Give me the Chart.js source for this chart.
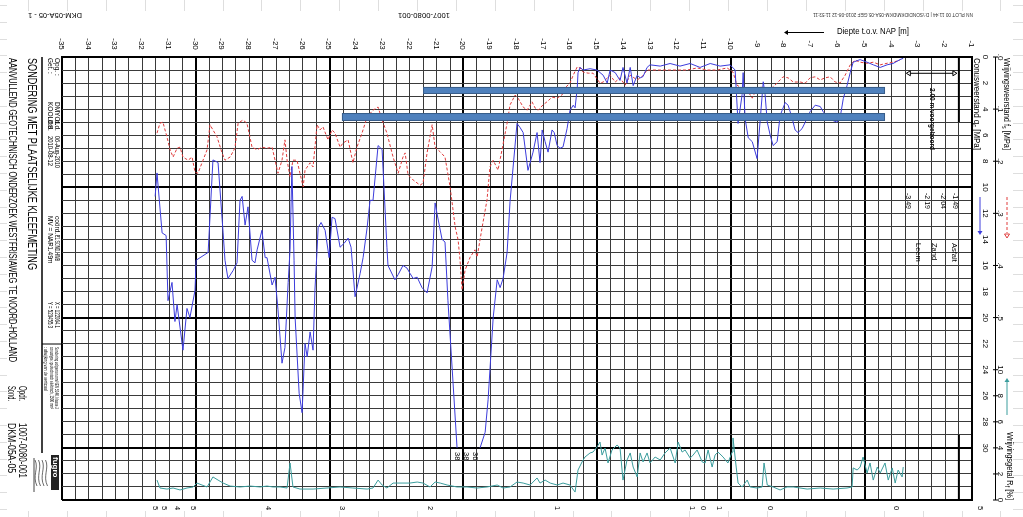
<!DOCTYPE html>
<html>
<head>
<meta charset="utf-8">
<script src="https://cdn.jsdelivr.net/npm/chart.js@4.4.1/dist/chart.umd.min.js"></script>
<style>
html, body { margin: 0; padding: 0; background: #fff; }
#wrap { width: 1023px; height: 517px; position: relative; }
</style>
</head>
<body>
<div id="wrap"><canvas id="cpt" width="1023" height="517"></canvas></div>
<script>
// ── Data (depth t.o.v. NAP in m) ─────────────────────────────────────────
const depthTicks = [-35,-34,-33,-32,-31,-30,-29,-28,-27,-26,-25,-24,-23,-22,-21,-20,-19,-18,-17,-16,-15,-14,-13,-12,-11,-10,-9,-8,-7,-6,-5,-4,-3,-2,-1];
const qcTicks = [0,2,4,6,8,10,12,14,16,18,20,22,24,26,28,30];
const fsTicks = [0, 0.1, 0.2, 0.3, 0.4, 0.5];
const rfTicks = [10, 8, 6, 4, 2, 0];

// cone resistance qc [MPa]
const qcDepth = [-31.52,-31.45,-31.26,-31.11,-31.04,-30.89,-30.78,-30.70,-30.48,-30.33,
  -30.22,-30.03,-29.99,-29.54,-29.36,-29.17,-28.98,-28.91,-28.80,-28.61,
  -28.46,-28.35,-28.27,-28.16,-28.05,-27.90,-27.79,-27.71,-27.53,-27.41,
  -27.34,-27.15,-27.04,-26.93,-26.78,-26.67,-26.55,-26.48,-26.41,-26.33,
  -26.29,-26.14,-26.03,-25.92,-25.84,-25.73,-25.62,-25.55,-25.47,-25.43,
  -25.32,-25.17,-25.02,-24.91,-24.80,-24.61,-24.46,-24.31,-24.20,-24.05,
  -23.86,-23.75,-23.60,-23.49,-23.38,-23.19,-23.04,-22.86,-22.82,-22.56,
  -22.44,-22.26,-22.11,-22.00,-21.88,-21.73,-21.55,-21.36,-21.17,-21.06,
  -20.99,-20.80,-20.69,-20.58,-20.39,-20.24,-19.80,-19.38,-19.19,-19.08,
  -18.89,-18.74,-18.63,-18.52,-18.37,-18.26,-18.00,-17.89,-17.77,-17.59,
  -17.40,-17.25,-17.14,-17.06,-16.95,-16.84,-16.69,-16.61,-16.50,-16.39,
  -16.28,-16.13,-16.02,-15.90,-15.83,-15.75,-15.72,-15.64,-15.53,-15.27,
  -15.01,-14.78,-14.63,-14.52,-14.33,-14.15,-14.04,-13.89,-13.77,-13.66,
  -13.51,-13.40,-13.29,-13.14,-13.03,-12.65,-12.28,-11.91,-11.53,-11.16,
  -10.78,-10.41,-10.04,-9.85,-9.74,-9.59,-9.55,-9.48,-9.36,-9.21,
  -9.03,-8.92,-8.80,-8.73,-8.65,-8.54,-8.43,-8.28,-8.17,-7.98,
  -7.87,-7.72,-7.61,-7.50,-7.35,-7.23,-7.05,-6.86,-6.67,-6.56,
  -6.30,-6.04,-5.93,-5.81,-5.67,-5.55,-5.44,-5.18,-4.92,-4.69,
  -4.43,-4.17,-3.95,-3.69,-3.57];
const qcValue = [10.7,8.9,13.5,13.7,18.7,17.3,20.3,19.0,22.5,19.3,
  20.0,17.9,15.6,15.0,7.9,8.1,13.5,15.6,17.0,16.4,
  15.8,11.0,10.7,12.9,11.5,15.6,15.8,14.8,13.3,15.4,
  15.4,17.5,16.9,19.4,23.5,22.3,17.3,14.8,8.4,15.6,
  20.0,25.8,27.3,22.0,23.0,21.1,22.5,17.9,14.8,13.1,
  12.7,13.3,15.4,12.3,12.4,14.6,14.3,13.9,14.6,18.4,
  16.6,15.4,13.1,11.0,11.0,6.8,7.1,14.6,16.0,17.1,
  16.7,16.0,16.2,16.6,17.0,16.9,17.7,18.1,16.1,11.2,
  12.0,14.0,14.2,18.7,25.0,30.0,null,30.0,28.8,26.3,
  20.0,17.1,17.7,17.0,15.0,11.1,5.1,5.4,5.8,8.7,
  7.3,5.8,8.1,5.6,6.5,7.3,5.6,5.8,6.8,7.0,
  6.9,5.5,4.1,3.7,3.9,2.4,1.2,0.8,1.0,0.9,
  1.0,1.4,2.0,1.0,1.2,1.8,0.8,2.0,0.8,2.2,
  1.4,1.6,1.5,0.8,0.6,0.7,0.5,0.7,0.5,0.8,
  0.5,0.7,0.6,1.0,5.1,2.9,1.2,4.7,6.2,6.5,
  7.8,5.0,1.9,2.9,5.0,6.0,6.8,6.5,4.5,3.5,
  3.7,4.7,5.6,5.8,5.5,5.0,4.2,3.7,3.8,4.2,
  4.8,5.0,4.7,3.2,2.2,1.2,0.4,0.2,0.4,0.6,
  0.8,0.6,0.5,0.2,0.1];

// sleeve friction fs [MPa]
const fsDepth = [-31.45,-31.34,-31.23,-31.08,-30.96,-30.85,-30.70,-30.59,-30.48,-30.29,
  -30.14,-30.03,-29.92,-29.73,-29.58,-29.47,-29.36,-29.21,-29.02,-28.91,
  -28.72,-28.54,-28.42,-28.24,-28.09,-27.90,-27.71,-27.53,-27.34,-27.15,
  -27.04,-26.93,-26.78,-26.67,-26.59,-26.48,-26.37,-26.22,-26.11,-25.99,
  -25.92,-25.73,-25.62,-25.47,-25.36,-25.25,-25.06,-24.91,-24.80,-24.61,
  -24.50,-24.31,-24.13,-23.98,-23.79,-23.60,-23.38,-23.19,-23.04,-22.86,
  -22.63,-22.44,-22.26,-22.18,-22.07,-21.88,-21.62,-21.51,-21.36,-21.17,
  -21.06,-20.87,-20.69,-20.50,-20.31,-20.20,-20.13,-20.05,-19.94,-19.75,
  -19.57,-19.49,-19.30,-19.12,-19.01,-18.89,-18.71,-18.56,-18.37,-18.26,
  -18.07,-17.96,-17.77,-17.62,-17.44,-17.32,-17.21,-17.03,-16.88,-16.69,
  -16.50,-16.32,-16.20,-16.02,-15.90,-15.75,-15.64,-15.53,-15.34,-15.16,
  -14.90,-14.78,-14.52,-14.33,-14.15,-13.96,-13.77,-13.51,-13.33,-13.14,
  -12.77,-12.39,-12.02,-11.64,-11.27,-10.90,-10.52,-10.15,-9.93,-9.78,
  -9.66,-9.36,-9.21,-9.03,-8.84,-8.65,-8.47,-8.28,-8.06,-7.87,
  -7.68,-7.42,-7.23,-7.05,-6.86,-6.67,-6.49,-6.30,-6.11,-5.93,
  -5.74,-5.55,-5.37,-5.18,-4.92,-4.69,-4.43,-4.17,-3.95,-3.69];
const fsValue = [0.146,0.127,0.125,0.153,0.178,0.192,0.175,0.173,0.192,0.198,
  0.192,0.221,0.223,0.198,0.178,0.130,0.140,0.153,0.184,0.198,
  0.192,0.175,0.127,0.121,0.127,0.173,0.178,0.173,0.175,0.173,
  0.198,0.223,0.198,0.159,0.198,0.230,0.198,0.198,0.223,0.249,
  0.217,0.203,0.211,0.130,0.140,0.134,0.159,0.140,0.146,0.173,
  0.165,0.159,0.203,0.173,0.146,0.115,0.102,0.096,0.121,0.146,
  0.192,0.223,0.192,0.184,0.226,0.236,0.246,0.242,0.184,0.130,
  0.173,0.182,0.192,0.249,0.326,0.351,0.389,0.447,0.409,0.384,
  0.370,0.384,0.326,0.274,0.211,0.198,0.217,0.178,0.127,0.092,
  0.073,0.079,0.096,0.102,0.086,0.098,0.102,0.092,0.086,0.077,
  0.079,0.073,0.059,0.050,0.035,0.019,0.021,0.029,0.031,0.031,
  0.050,0.048,0.035,0.048,0.040,0.054,0.035,0.044,0.038,0.025,
  0.025,0.025,0.025,0.025,0.021,0.025,0.025,0.021,0.029,0.054,
  0.058,0.067,0.079,0.059,0.058,0.067,0.059,0.050,0.038,0.040,
  0.048,0.048,0.050,0.040,0.038,0.044,0.040,0.038,0.048,0.050,
  0.035,0.015,0.006,0.010,0.012,0.010,0.015,0.012,0.010,0.006];

// friction ratio Rf [%]
const rfDepth = [-31.45,-31.34,-31.08,-30.85,-30.59,-30.33,-30.10,-29.96,-29.77,-29.58,
  -29.36,-29.17,-28.98,-28.72,-28.35,-27.97,-27.60,-27.34,-27.12,-26.85,
  -26.59,-26.48,-26.37,-26.11,-25.62,-25.10,-24.61,-24.13,-23.60,-23.38,
  -23.19,-23.04,-22.86,-22.63,-22.26,-22.00,-21.73,-21.51,-21.25,-21.06,
  -20.87,-20.61,-20.24,-19.87,-19.49,-19.12,-18.74,-18.52,-18.26,-18.00,
  -17.77,-17.51,-17.25,-17.14,-16.95,-16.76,-16.50,-16.28,-16.02,-15.83,
  -15.72,-15.57,-15.46,-15.27,-15.16,-15.01,-14.90,-14.82,-14.71,-14.60,
  -14.45,-14.26,-14.15,-14.04,-13.89,-13.77,-13.66,-13.51,-13.40,-13.29,
  -13.14,-13.03,-12.84,-12.65,-12.47,-12.28,-12.09,-11.98,-11.83,-11.72,
  -11.53,-11.42,-11.27,-11.08,-10.97,-10.86,-10.71,-10.60,-10.49,-10.30,
  -10.12,-9.96,-9.93,-9.81,-9.74,-9.59,-9.40,-9.29,-9.03,-8.84,
  -8.77,-8.65,-8.43,-8.17,-7.91,-7.68,-7.16,-6.67,-6.19,-5.67,
  -5.48,-5.44,-5.29,-5.18,-5.07,-4.92,-4.81,-4.69,-4.54,-4.43,
  -4.25,-4.13,-3.98,-3.87,-3.76,-3.61,-3.57];
const rfValue = [1.53,0.92,0.84,0.92,0.77,0.92,1.00,1.30,1.15,1.00,
  1.77,1.53,1.30,1.07,1.00,1.07,1.00,1.07,1.00,1.00,
  0.92,2.84,1.00,0.84,0.84,0.92,1.00,0.92,0.84,0.92,
  1.53,1.15,0.92,1.30,1.30,1.30,1.38,1.30,1.00,1.38,
  1.30,1.15,1.00,1.00,0.92,1.00,1.15,0.92,1.00,1.38,
  1.30,1.15,1.69,1.30,1.53,1.30,1.15,1.30,1.15,0.61,
  2.30,2.92,3.30,3.61,3.68,4.07,4.45,3.45,3.99,2.84,
  3.84,4.22,3.99,1.53,3.07,3.61,2.53,1.77,3.61,2.92,
  3.61,2.84,3.30,3.07,3.61,3.99,2.84,4.45,3.68,3.84,
  3.22,3.45,3.84,2.92,2.84,3.84,2.53,3.45,3.68,3.30,
  2.84,3.68,4.76,2.53,1.30,1.00,1.53,1.00,0.92,1.00,
  2.84,1.15,1.00,0.77,1.00,1.00,0.84,0.92,0.84,0.92,
  1.00,2.46,2.30,2.53,3.30,2.07,2.84,1.53,2.53,2.07,
  2.84,1.53,2.46,1.30,2.30,1.77,2.53];

// out-of-range qc values written under the plot, and the bottom class digits
const clipDepth = [-20.24, -19.90, -19.55];
const clipText = ['38', '38', '36'];
const classDepth = [-31.52,-31.19,-30.70,-30.10,-27.30,-24.54,-21.25,-16.50,-11.46,-11.05,-10.45,-8.54,-3.83];
const classText = ['5','5','4','5','4','3','2','1','1','0','1','0','0'];

// soil layer table (pre-drilled top)
const layerDepth = [-1.49, -2.04, -2.19, -3.49];
const layerName = ['Asfalt', 'Zand', 'Leem'];

// ── Helpers ──────────────────────────────────────────────────────────────
const FONT = '"Liberation Sans", Arial, sans-serif';
const R90 = Math.PI / 2;

function pts(xs, ys) {
    const n = Math.min(xs.length, ys.length);
    const out = [];
    for (let i = 0; i < n; i++) out.push({ x: xs[i], y: ys[i] });
    return out;
}

function say(ctx, s, x, y, o) {
    o = o || {};
    ctx.save();
    ctx.translate(x, y);
    if (o.rot) ctx.rotate(o.rot);
    ctx.font = (o.bold ? 'bold ' : '') + (o.size || 9) + 'px ' + FONT;
    ctx.fillStyle = o.color || '#000';
    ctx.textAlign = o.align || 'left';
    ctx.textBaseline = o.base || 'middle';
    if (o.w) ctx.fillText(s, 0, 0, o.w); else ctx.fillText(s, 0, 0);
    ctx.restore();
}

// rotated title with a subscript, squeezed to length w
function subTitle(ctx, pre, sub, post, x, y, size, w) {
    ctx.save();
    ctx.translate(x, y);
    ctx.rotate(R90);
    ctx.font = size + 'px ' + FONT;
    const a = ctx.measureText(pre).width, c = ctx.measureText(post).width;
    ctx.font = (size * 0.7) + 'px ' + FONT;
    const b = ctx.measureText(sub).width;
    const k = Math.min(1, w / (a + b + c));
    ctx.scale(k, 1);
    ctx.fillStyle = '#000';
    ctx.textBaseline = 'middle';
    ctx.font = size + 'px ' + FONT;
    ctx.fillText(pre, 0, 0);
    ctx.font = (size * 0.7) + 'px ' + FONT;
    ctx.fillText(sub, a, size * 0.3);
    ctx.font = size + 'px ' + FONT;
    ctx.fillText(post, a + b, 0);
    ctx.restore();
}

function line(ctx, x1, y1, x2, y2, color, w, dash) {
    ctx.save();
    ctx.strokeStyle = color;
    ctx.lineWidth = w || 1;
    if (dash) ctx.setLineDash(dash);
    ctx.beginPath();
    ctx.moveTo(x1, y1);
    ctx.lineTo(x2, y2);
    ctx.stroke();
    ctx.restore();
}

function arrowHead(ctx, x, y, dir, color, open) {
    // dir: 'down' | 'up' | 'left' | 'right'
    const s = 4;
    const p = {
        down: [[x - s / 1.6, y - s], [x + s / 1.6, y - s]],
        up: [[x - s / 1.6, y + s], [x + s / 1.6, y + s]],
        left: [[x + s, y - s / 1.6], [x + s, y + s / 1.6]],
        right: [[x - s, y - s / 1.6], [x - s, y + s / 1.6]]
    }[dir];
    ctx.save();
    ctx.beginPath();
    ctx.moveTo(x, y);
    ctx.lineTo(p[0][0], p[0][1]);
    ctx.lineTo(p[1][0], p[1][1]);
    ctx.closePath();
    ctx.lineWidth = 1;
    ctx.strokeStyle = color;
    if (open) { ctx.fillStyle = '#fff'; ctx.fill(); ctx.stroke(); }
    else { ctx.fillStyle = color; ctx.fill(); }
    ctx.restore();
}

// ── Overlays ─────────────────────────────────────────────────────────────
const markBars = [
    { from: -21.51, to: -4.25, top: 2.30, bottom: 2.84 },
    { from: -24.54, to: -4.25, top: 4.30, bottom: 4.91 }
];

const sheetLines = {
    id: 'sheetLines',
    beforeDraw(chart) {
        const ctx = chart.ctx;
        ctx.save();
        ctx.fillStyle = '#fff';
        ctx.fillRect(0, 0, chart.width, chart.height);
        ctx.restore();
        for (let x = 28; x < 1023; x += 38.9) {
            line(ctx, Math.round(x) + 0.5, 0, Math.round(x) + 0.5, 11, '#dedede', 1);
            line(ctx, Math.round(x) + 0.5, 511, Math.round(x) + 0.5, 517, '#dedede', 1);
        }
        for (let y = 5; y < 517; y += 16.8) {
            line(ctx, 1013, Math.round(y) + 0.5, 1023, Math.round(y) + 0.5, '#dedede', 1);
            line(ctx, 0, Math.round(y) + 0.5, 7, Math.round(y) + 0.5, '#dedede', 1);
        }
    }
};

const cptNotes = {
    id: 'cptNotes',
    afterDatasetsDraw(chart) {
        const ctx = chart.ctx;
        const xs = chart.scales.x, ys = chart.scales.y;
        // blue marker bars drawn over the curves
        markBars.forEach(b => {
            const x1 = xs.getPixelForValue(b.from), x2 = xs.getPixelForValue(b.to);
            const y1 = ys.getPixelForValue(b.top), y2 = ys.getPixelForValue(b.bottom);
            ctx.save();
            ctx.fillStyle = '#4f81bd';
            ctx.strokeStyle = '#385d8a';
            ctx.lineWidth = 1;
            ctx.fillRect(x1, y1, x2 - x1, y2 - y1);
            ctx.strokeRect(x1 + 0.5, y1 + 0.5, x2 - x1 - 1, y2 - y1 - 1);
            ctx.restore();
        });
    },
    afterDraw(chart) {
        const ctx = chart.ctx;
        const xs = chart.scales.x, ys = chart.scales.y, fsS = chart.scales.yfs, rfS = chart.scales.yrf;
        const area = chart.chartArea;

        // depth tick labels along the top
        depthTicks.forEach(d => say(ctx, String(d), xs.getPixelForValue(d) - 1, 44, { rot: R90, align: 'center', size: 8 }));

        // header (page upside down)
        say(ctx, 'DKM-05A-05 - 1', 55, 15, { rot: Math.PI, align: 'center', size: 8, w: 54 });
        say(ctx, '1007-0080-001', 424, 15, { rot: Math.PI, align: 'center', size: 8, w: 52 });
        say(ctx, 'NN PLOT 00 11:44 | D:\\SOND\\DKM\\DKM-05A-05.GEF 2010-08-12 11:53:11', 893, 15,
            { rot: Math.PI, align: 'center', size: 6, w: 160, color: '#333' });
        say(ctx, 'Diepte t.o.v. NAP [m]', 837, 32, { size: 8.5, w: 72 });
        line(ctx, 786, 32.5, 824, 32.5, '#000', 1);
        arrowHead(ctx, 784, 32.5, 'left', '#000', false);

        // right side axes
        qcTicks.forEach(v => say(ctx, String(v), 985, ys.getPixelForValue(v), { rot: R90, align: 'center', size: 8 }));
        subTitle(ctx, 'Conusweerstand q', 'c', ' [MPa]', 976, 58, 9, 92);
        line(ctx, 995.5, area.top, 995.5, area.bottom, '#000', 1);
        fsTicks.forEach(v => {
            const y = fsS.getPixelForValue(v);
            line(ctx, 993, y, 998, y, '#000', 1);
            say(ctx, '.' + Math.round(v * 10), 1000, y, { rot: R90, align: 'center', size: 8 });
        });
        rfTicks.forEach(v => {
            const y = rfS.getPixelForValue(v);
            line(ctx, 993, y, 998, y, '#000', 1);
            say(ctx, String(v), 1000, y, { rot: R90, align: 'center', size: 8 });
        });
        subTitle(ctx, 'Wrijvingsweerstand f', 's', ' [MPa]', 1006, 58, 9, 92);
        subTitle(ctx, 'Wrijvingsgetal R', 'f', ' [%]', 1009, 432, 9, 68);

        // legend strokes
        line(ctx, 980, 197, 980, 231, '#3c3cdc', 1);
        arrowHead(ctx, 980, 235, 'down', '#3c3cdc', false);
        line(ctx, 1007, 197, 1007, 233, '#e03c3c', 1, [3, 2]);
        arrowHead(ctx, 1007, 238, 'down', '#e03c3c', true);
        line(ctx, 1007, 382, 1007, 415, '#3b9d9d', 1);
        arrowHead(ctx, 1007, 378, 'up', '#3b9d9d', false);

        // pre-drilled part and layer table
        const x0 = xs.getPixelForValue(layerDepth[0]);
        line(ctx, x0, ys.getPixelForValue(0), x0, ys.getPixelForValue(5), '#000', 2);
        line(ctx, x0, ys.getPixelForValue(29), x0, ys.getPixelForValue(34), '#000', 2);
        const xPre = xs.getPixelForValue(layerDepth[3]);
        const yDim = ys.getPixelForValue(1.25);
        line(ctx, xPre + 4, yDim, x0 - 4, yDim, '#000', 1);
        arrowHead(ctx, xPre + 1, yDim, 'left', '#000', true);
        arrowHead(ctx, x0 - 2, yDim, 'right', '#000', true);
        say(ctx, '2.00 m voorgeboord', 932, 88, { rot: R90, size: 8, bold: true, w: 62 });
        const layerX = [955, 943, 927, 908];
        layerDepth.forEach((d, i) => say(ctx, d.toFixed(2), layerX[i], 193, { rot: R90, size: 7.5, w: 16 }));
        const nameX = [954, 934, 918];
        layerName.forEach((n, i) => say(ctx, n, nameX[i], 243, { rot: R90, size: 7.5, w: 19 }));

        // clipped values and class digits
        clipDepth.forEach((d, i) => say(ctx, clipText[i], xs.getPixelForValue(d), 452, { rot: R90, size: 7.5 }));
        classDepth.forEach((d, i) => say(ctx, classText[i], xs.getPixelForValue(d), 508, { rot: R90, align: 'center', size: 7.5 }));
        say(ctx, '5', 980, 508, { rot: R90, align: 'center', size: 7.5 });

        // left block: titles and info box
        say(ctx, 'SONDERING MET PLAATSELIJKE KLEEFMETING', 32, 58, { rot: R90, size: 13, w: 212 });
        say(ctx, 'AANVULLEND GEOTECHNISCH ONDERZOEK WESTFRISIAWEG TE NOORD-HOLLAND', 12, 58, { rot: R90, size: 10, w: 304 });
        line(ctx, 42, area.top, 42, 453, '#000', 1.5);
        line(ctx, 42, 344, area.left, 344, '#000', 1);
        const small = { rot: R90, size: 6.5 };
        say(ctx, 'Opg. :', 57, 58, small);
        say(ctx, 'DMYOL', 57, 102, small);
        say(ctx, 'd.d.', 57, 120, small);
        say(ctx, '06-Aug-2010', 57, 136, Object.assign({ w: 32 }, small));
        say(ctx, 'Get. :', 50, 58, small);
        say(ctx, 'KOOLDS', 50, 102, small);
        say(ctx, 'd.d.', 50, 120, small);
        say(ctx, '2010-08-12', 50, 136, Object.assign({ w: 30 }, small));
        say(ctx, 'coörd. :', 57, 216, small);
        say(ctx, 'F1.SOND.HWB', 57, 235, Object.assign({ w: 26 }, small));
        say(ctx, 'MV = NAP', 50, 216, small);
        say(ctx, '-1.49', 50, 244, small);
        say(ctx, 'm', 50, 258, small);
        say(ctx, 'X = 122064.1', 57, 302, Object.assign({ w: 26 }, small));
        say(ctx, 'Y = 520455.3', 50, 302, Object.assign({ w: 26 }, small));
        say(ctx, 'Sondering volgens norm NEN 5140, klasse 2', 57, 347, { rot: R90, size: 6, w: 62 });
        say(ctx, 'conustype: geotechnisch elektrisch, 1500 mm\u00b2', 51.5, 347, { rot: R90, size: 6, w: 62 });
        say(ctx, ': afwijking van de verticaal', 46, 347, { rot: R90, size: 6, w: 44 });
        say(ctx, 'Opdr.', 22, 386, { rot: R90, size: 11, w: 15 });
        say(ctx, '1007-0080-001', 22, 423, { rot: R90, size: 11, w: 55 });
        say(ctx, 'Sond.', 11, 386, { rot: R90, size: 11, w: 15 });
        say(ctx, 'DKM-05A-05', 11, 423, { rot: R90, size: 11, w: 50 });

        // logo block
        ctx.save();
        ctx.fillStyle = '#222';
        ctx.fillRect(51, 455, 8, 35);
        ctx.restore();
        say(ctx, 'fugro', 55, 457, { rot: R90, size: 8, bold: true, color: '#fff', w: 31 });
        for (let i = 0; i < 4; i++) {
            ctx.save();
            ctx.strokeStyle = '#444';
            ctx.lineWidth = 0.8;
            ctx.beginPath();
            const bx = 35 + i * 3.5;
            ctx.moveTo(bx, 460);
            ctx.bezierCurveTo(bx + 4, 468, bx - 3, 476, bx + 2, 486);
            ctx.stroke();
            ctx.restore();
        }
        line(ctx, 34, 458, 34, 492, '#444', 1);
    }
};

// ── Chart ────────────────────────────────────────────────────────────────
function gridColor(c) {
    const s = c.scale, v = c.tick.value;
    const major = s.axis === 'x' ? 5 : 10;
    return (Math.abs(v % major) < 1e-6 || v === s.min || v === s.max) ? '#000' : '#3a3a3a';
}
function gridWidth(c) {
    const s = c.scale, v = c.tick.value;
    const major = s.axis === 'x' ? 5 : 10;
    return (Math.abs(v % major) < 1e-6 || v === s.min || v === s.max) ? 2 : 1;
}

new Chart(document.getElementById('cpt'), {
    type: 'scatter',
    data: {
        datasets: [
            {
                label: 'qc',
                data: pts(qcDepth, qcValue),
                showLine: true,
                borderColor: '#3c3cdc',
                borderWidth: 1,
                pointRadius: 0,
                spanGaps: false,
                yAxisID: 'y'
            },
            {
                label: 'fs',
                data: pts(fsDepth, fsValue),
                showLine: true,
                borderColor: '#e03c3c',
                borderWidth: 1,
                borderDash: [3, 2],
                pointRadius: 0,
                yAxisID: 'yfs'
            },
            {
                label: 'Rf',
                data: pts(rfDepth, rfValue),
                showLine: true,
                borderColor: '#3b9d9d',
                borderWidth: 1,
                pointRadius: 0,
                yAxisID: 'yrf'
            }
        ]
    },
    options: {
        responsive: false,
        animation: false,
        devicePixelRatio: 1,
        layout: { padding: { left: 62, top: 57, right: 51, bottom: 17 } },
        elements: { line: { tension: 0 } },
        plugins: { legend: { display: false }, tooltip: { enabled: false } },
        scales: {
            x: {
                type: 'linear', position: 'top', min: -35, max: -1,
                ticks: { display: false, stepSize: 0.5 },
                grid: { drawTicks: false, color: gridColor, lineWidth: gridWidth },
                border: { display: true, color: '#000', width: 2 }
            },
            y: {
                type: 'linear', position: 'right', reverse: true, min: 0, max: 34,
                ticks: { display: false, stepSize: 1 },
                grid: { drawTicks: false, color: gridColor, lineWidth: gridWidth },
                border: { display: true, color: '#000', width: 2 }
            },
            yfs: { type: 'linear', display: false, reverse: true, min: 0, max: 0.85 },
            yrf: { type: 'linear', display: false, min: 0, max: 34 }
        }
    },
    plugins: [sheetLines, cptNotes]
});
</script>
</body>
</html>
